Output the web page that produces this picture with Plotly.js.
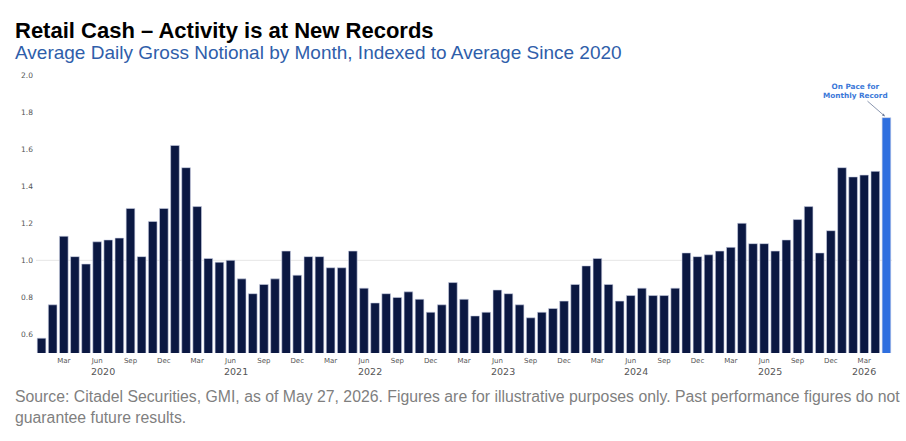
<!DOCTYPE html>
<html>
<head>
<meta charset="utf-8">
<script src="https://cdn.plot.ly/plotly-3.0.1.min.js"></script>
<style>html,body{margin:0;padding:0;background:#fff;}#chart{width:906px;height:441px;}</style>
</head>
<body>
<div id="chart"></div>
<script>
// ---- data ----
const years = [2020, 2021, 2022, 2023, 2024, 2025, 2026];
const monthNames = ["Jan","Feb","Mar","Apr","May","Jun","Jul","Aug","Sep","Oct","Nov","Dec"];
const monthsInYear = [12, 12, 12, 12, 12, 12, 5];
const values2020 = [0.58, 0.76, 1.13, 1.02, 0.98, 1.10, 1.11, 1.12, 1.28, 1.02, 1.21, 1.28];
const values2021 = [1.62, 1.50, 1.29, 1.01, 0.99, 1.00, 0.90, 0.82, 0.87, 0.90, 1.05, 0.92];
const values2022 = [1.02, 1.02, 0.96, 0.96, 1.05, 0.85, 0.77, 0.82, 0.80, 0.83, 0.79, 0.72];
const values2023 = [0.76, 0.88, 0.79, 0.70, 0.72, 0.84, 0.82, 0.76, 0.69, 0.72, 0.74, 0.78];
const values2024 = [0.87, 0.97, 1.01, 0.87, 0.78, 0.81, 0.85, 0.81, 0.81, 0.85, 1.04, 1.02];
const values2025 = [1.03, 1.05, 1.07, 1.20, 1.09, 1.09, 1.05, 1.11, 1.22, 1.29, 1.04, 1.16];
const values2026 = [1.50, 1.45, 1.46, 1.48, 1.77];
const yTicks = [0.6, 0.8, 1.0, 1.2, 1.4, 1.6, 1.8, 2.0];
const monthTickNames = ["Mar", "Jun", "Sep", "Dec"];
const titleText = "Retail Cash \u2013 Activity is at New Records";
const subtitleText = "Average Daily Gross Notional by Month, Indexed to Average Since 2020";
const noteText = "On Pace for<br>Monthly Record";
const sourceText = "Source: Citadel Securities, GMI, as of May 27, 2026. Figures are for illustrative purposes only. Past performance figures do not<br>guarantee future results.";

// ---- build ----
const seriesByYear = [values2020, values2021, values2022, values2023, values2024, values2025, values2026];
const categories = [];
const monthOfCat = [];
years.forEach((y, i) => {
  for (let m = 0; m < monthsInYear[i]; m++) {
    categories.push(monthNames[m] + " " + y);
    monthOfCat.push(monthNames[m]);
  }
});
const values = [].concat(...seriesByYear);
const lastIdx = values.length - 1;
const NAVY = "#0b1842", BLUE = "#2f6fdf";
const colors = values.map((v, i) => i === lastIdx ? BLUE : NAVY);

const tickvals = [], ticktext = [];
categories.forEach((c, i) => {
  if (monthTickNames.includes(monthOfCat[i])) { tickvals.push(c); ticktext.push(monthOfCat[i]); }
});

const annotations = [];
let start = 0;
years.forEach((y, i) => {
  const mid = start + (monthsInYear[i] - 1) / 2;
  annotations.push({
    x: mid, xref: "x", y: -0.068, yref: "paper", text: String(y), showarrow: false,
    xanchor: "center", yanchor: "middle",
    font: {family: "DejaVu Sans", size: 9.5, color: "#555555"}
  });
  start += monthsInYear[i];
});

annotations.push({
  x: categories[lastIdx], y: values[lastIdx], xref: "x", yref: "y",
  text: noteText, showarrow: true, ax: -31, ay: -27,
  arrowhead: 2, arrowsize: 0.7, arrowwidth: 0.8, arrowcolor: "#6b7a99", standoff: 2,
  font: {family: "DejaVu Sans", size: 7.3, color: "#3b78d8", weight: "bold"},
  align: "center"
});
annotations.push({
  xref: "paper", yref: "paper", x: -0.0263, y: 1.160, xanchor: "left", yanchor: "middle",
  text: "<b>" + titleText + "</b>", showarrow: false,
  font: {family: "Liberation Sans, Arial, sans-serif", size: 22, color: "#000000"}
});
annotations.push({
  xref: "paper", yref: "paper", x: -0.0263, y: 1.0815, xanchor: "left", yanchor: "middle",
  text: subtitleText, showarrow: false,
  font: {family: "Liberation Sans, Arial, sans-serif", size: 19, color: "#2f5eaa"}
});
annotations.push({
  xref: "paper", yref: "paper", x: -0.0263, y: -0.118, xanchor: "left", yanchor: "top",
  text: sourceText, showarrow: false, align: "left",
  font: {family: "Liberation Sans, Arial, sans-serif", size: 15.8, color: "#7f7f7f"}
});

const trace = {
  type: "bar", x: categories, y: values,
  marker: {color: colors, line: {color: "#cdd2e6", width: 0.6}},
  hoverinfo: "x+y"
};

const layout = {
  width: 906, height: 441,
  margin: {l: 35.5, r: 13.7, t: 75, b: 87.5, pad: 0},
  paper_bgcolor: "#ffffff", plot_bgcolor: "#ffffff",
  showlegend: false, bargap: 0.22,
  xaxis: {
    type: "category", tickvals: tickvals, ticktext: ticktext,
    tickfont: {family: "DejaVu Sans", size: 7, color: "#555555"},
    ticks: "", showgrid: false, showline: false, zeroline: false,
    range: [-0.5, lastIdx + 0.5], ticklabelstandoff: 2
  },
  yaxis: {
    range: [0.5, 2.0], tickvals: yTicks, ticktext: yTicks.map(v => v.toFixed(1)),
    tickfont: {family: "DejaVu Sans", size: 7.5, color: "#555555"},
    ticks: "", showgrid: false, zeroline: false, showline: false, ticklabelstandoff: 2
  },
  shapes: [{
    type: "line", xref: "paper", yref: "y", x0: 0, x1: 1, y0: 1.0, y1: 1.0,
    line: {color: "#e6e6e6", width: 1}, layer: "below"
  }],
  annotations: annotations
};

Plotly.newPlot("chart", [trace], layout, {displayModeBar: false, staticPlot: true});
</script>
</body>
</html>
